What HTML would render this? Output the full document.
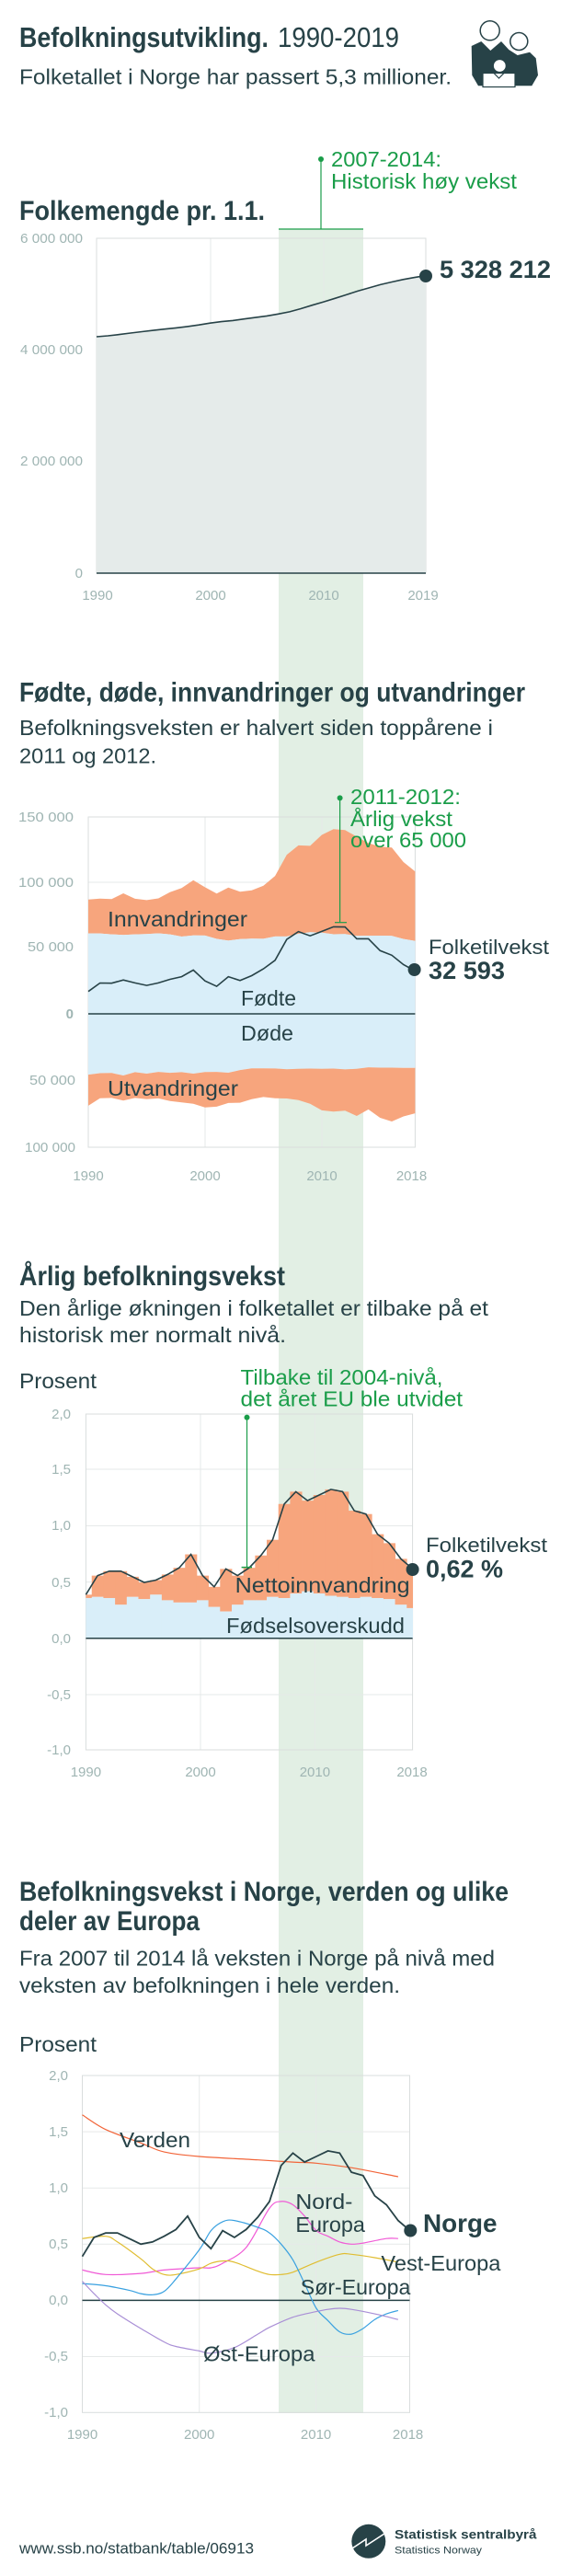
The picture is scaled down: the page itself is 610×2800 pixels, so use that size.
<!DOCTYPE html>
<html><head><meta charset="utf-8">
<style>
html,body{margin:0;padding:0;background:#fff;}
svg{display:block;}
text{font-family:"Liberation Sans",sans-serif;}
.t{font-weight:bold;fill:#274247;}
.s{fill:#274247;}
.ax{fill:#9fb5b3;font-size:15px;}
.g{fill:#1a9d49;}
</style></head>
<body>
<svg id="svg" width="610" height="2800" viewBox="0 0 610 2800" xmlns="http://www.w3.org/2000/svg">
<rect width="610" height="2800" fill="#fff"/>
<!-- green band -->
<rect x="303" y="249" width="92" height="2374" fill="#e2efe4"/>

<!-- header -->
<text class="t" x="21" y="51" font-size="31" textLength="271" lengthAdjust="spacingAndGlyphs">Befolkningsutvikling.</text>
<text class="s" x="302" y="51" font-size="31" textLength="132" lengthAdjust="spacingAndGlyphs">1990-2019</text>
<text class="s" x="21" y="91.5" font-size="23" textLength="470" lengthAdjust="spacingAndGlyphs">Folketallet i Norge har passert 5,3 millioner.</text>
<!-- icon -->
<path d="M512.7,50 L523.3,45 L533.3,55 L545,45 L553.3,54 L562.7,60 L576,56.7 L582.7,63.3 L585,81.7 L578.3,93.3 L520,93.3 L513.3,81.7 Z" fill="#274247"/>
<circle cx="532.7" cy="33.3" r="10.5" fill="#fff" stroke="#274247" stroke-width="1.5"/>
<circle cx="564.3" cy="45" r="9.5" fill="#fff" stroke="#274247" stroke-width="1.5"/>
<rect x="525" y="79.5" width="35" height="15" fill="#fff" stroke="#274247" stroke-width="1.2"/>
<path d="M537,79.5 L542.5,85 L548,79.5" fill="none" stroke="#274247" stroke-width="1.2"/>
<circle cx="543.3" cy="71.5" r="7" fill="#fff" stroke="#274247" stroke-width="1.2"/>

<!-- annotation 1 -->
<circle cx="349" cy="173" r="3" fill="#1a9d49"/>
<line x1="349" y1="173" x2="349" y2="249" stroke="#1a9d49" stroke-width="1.2"/>
<line x1="303" y1="249" x2="395" y2="249" stroke="#1a9d49" stroke-width="1.2"/>
<text class="g" x="360" y="181" font-size="23" textLength="120" lengthAdjust="spacingAndGlyphs">2007-2014:</text>
<text class="g" x="360" y="205" font-size="23" textLength="202" lengthAdjust="spacingAndGlyphs">Historisk høy vekst</text>

<text class="t" x="21" y="239" font-size="30" textLength="267" lengthAdjust="spacingAndGlyphs">Folkemengde pr. 1.1.</text>

<!-- chart1 -->
<g id="c1"></g>
<text class="ax" x="90" y="264" text-anchor="end" textLength="68" lengthAdjust="spacingAndGlyphs">6 000 000</text>
<text class="ax" x="90" y="385" text-anchor="end" textLength="68" lengthAdjust="spacingAndGlyphs">4 000 000</text>
<text class="ax" x="90" y="506" text-anchor="end" textLength="68" lengthAdjust="spacingAndGlyphs">2 000 000</text>
<text class="ax" x="90" y="628" text-anchor="end">0</text>
<text class="ax" x="106" y="652" text-anchor="middle">1990</text>
<text class="ax" x="229" y="652" text-anchor="middle">2000</text>
<text class="ax" x="352" y="652" text-anchor="middle">2010</text>
<text class="ax" x="460" y="652" text-anchor="middle">2019</text>
<circle cx="463" cy="300" r="7" fill="#274247"/>
<text class="t" x="478" y="302" font-size="27" textLength="121" lengthAdjust="spacingAndGlyphs">5 328 212</text>

<!-- section 2 -->
<text class="t" x="21" y="762.5" font-size="30" textLength="550" lengthAdjust="spacingAndGlyphs">Fødte, døde, innvandringer og utvandringer</text>
<text class="s" x="21" y="799" font-size="23" textLength="515" lengthAdjust="spacingAndGlyphs">Befolkningsveksten er halvert siden toppårene i</text>
<text class="s" x="21" y="829.5" font-size="23" textLength="149" lengthAdjust="spacingAndGlyphs">2011 og 2012.</text>
<g id="c2"></g>
<text class="ax" x="80" y="893" text-anchor="end" textLength="60" lengthAdjust="spacingAndGlyphs">150 000</text>
<text class="ax" x="80" y="964" text-anchor="end" textLength="60" lengthAdjust="spacingAndGlyphs">100 000</text>
<text class="ax" x="80" y="1034" text-anchor="end" textLength="50" lengthAdjust="spacingAndGlyphs">50 000</text>
<text class="ax" x="80" y="1107" text-anchor="end" font-weight="bold">0</text>
<text class="ax" x="82" y="1179" text-anchor="end" textLength="50" lengthAdjust="spacingAndGlyphs">50 000</text>
<text class="ax" x="82" y="1252" text-anchor="end" textLength="55" lengthAdjust="spacingAndGlyphs">100 000</text>
<text class="ax" x="96" y="1283" text-anchor="middle">1990</text>
<text class="ax" x="223" y="1283" text-anchor="middle">2000</text>
<text class="ax" x="350" y="1283" text-anchor="middle">2010</text>
<text class="ax" x="447.5" y="1283" text-anchor="middle">2018</text>
<text class="s" x="117" y="1007" font-size="23" textLength="152" lengthAdjust="spacingAndGlyphs">Innvandringer</text>
<text class="s" x="262" y="1093" font-size="23" textLength="60" lengthAdjust="spacingAndGlyphs">Fødte</text>
<text class="s" x="262" y="1131" font-size="23" textLength="57" lengthAdjust="spacingAndGlyphs">Døde</text>
<text class="s" x="117" y="1191" font-size="23" textLength="142" lengthAdjust="spacingAndGlyphs">Utvandringer</text>
<circle cx="369.6" cy="867.4" r="3" fill="#1a9d49"/>
<line x1="369.6" y1="867.4" x2="369.6" y2="1002.7" stroke="#1a9d49" stroke-width="1.2"/>
<line x1="364" y1="1002.7" x2="377" y2="1002.7" stroke="#1a9d49" stroke-width="1.2"/>
<text class="g" x="381" y="874" font-size="23" textLength="120" lengthAdjust="spacingAndGlyphs">2011-2012:</text>
<text class="g" x="381" y="898" font-size="23" textLength="111" lengthAdjust="spacingAndGlyphs">Årlig vekst</text>
<text class="g" x="381" y="921" font-size="23" textLength="126" lengthAdjust="spacingAndGlyphs">over 65 000</text>
<circle cx="450.6" cy="1054" r="7" fill="#274247"/>
<text class="s" x="466" y="1037" font-size="22" textLength="131" lengthAdjust="spacingAndGlyphs">Folketilvekst</text>
<text class="t" x="466" y="1064" font-size="27" textLength="83" lengthAdjust="spacingAndGlyphs">32 593</text>

<!-- section 3 -->
<text class="t" x="21" y="1397" font-size="30" textLength="289" lengthAdjust="spacingAndGlyphs">Årlig befolkningsvekst</text>
<text class="s" x="21" y="1430" font-size="23" textLength="510" lengthAdjust="spacingAndGlyphs">Den årlige økningen i folketallet er tilbake på et</text>
<text class="s" x="21" y="1459" font-size="23" textLength="290" lengthAdjust="spacingAndGlyphs">historisk mer normalt nivå.</text>
<text class="s" x="21" y="1509" font-size="23" textLength="84" lengthAdjust="spacingAndGlyphs">Prosent</text>
<g id="c3"></g>
<text class="ax" x="77" y="1542" text-anchor="end">2,0</text>
<text class="ax" x="77" y="1602" text-anchor="end">1,5</text>
<text class="ax" x="77" y="1663" text-anchor="end">1,0</text>
<text class="ax" x="77" y="1725" text-anchor="end">0,5</text>
<text class="ax" x="77" y="1786" text-anchor="end">0,0</text>
<text class="ax" x="77" y="1847" text-anchor="end">-0,5</text>
<text class="ax" x="77" y="1907" text-anchor="end">-1,0</text>
<text class="ax" x="93.4" y="1931" text-anchor="middle">1990</text>
<text class="ax" x="218" y="1931" text-anchor="middle">2000</text>
<text class="ax" x="342.4" y="1931" text-anchor="middle">2010</text>
<text class="ax" x="448" y="1931" text-anchor="middle">2018</text>
<circle cx="268.5" cy="1540.6" r="3" fill="#1a9d49"/>
<line x1="268.5" y1="1540.6" x2="268.5" y2="1703.6" stroke="#1a9d49" stroke-width="1.2"/>
<line x1="262.6" y1="1703.6" x2="274" y2="1703.6" stroke="#1a9d49" stroke-width="1.5"/>
<text class="g" x="261.5" y="1505" font-size="23" textLength="220" lengthAdjust="spacingAndGlyphs">Tilbake til 2004-nivå,</text>
<text class="g" x="261.5" y="1528.6" font-size="23" textLength="241.6" lengthAdjust="spacingAndGlyphs">det året EU ble utvidet</text>
<text class="s" x="255.6" y="1731" font-size="23" textLength="190" lengthAdjust="spacingAndGlyphs">Nettoinnvandring</text>
<text class="s" x="246" y="1775" font-size="23" textLength="194" lengthAdjust="spacingAndGlyphs">Fødselsoverskudd</text>
<circle cx="448.6" cy="1706" r="7" fill="#274247"/>
<text class="s" x="463" y="1687" font-size="22" textLength="132" lengthAdjust="spacingAndGlyphs">Folketilvekst</text>
<text class="t" x="463" y="1714.7" font-size="27" textLength="84" lengthAdjust="spacingAndGlyphs">0,62 %</text>

<!-- section 4 -->
<text class="t" x="21" y="2066" font-size="30" textLength="532" lengthAdjust="spacingAndGlyphs">Befolkningsvekst i Norge, verden og ulike</text>
<text class="t" x="21" y="2098" font-size="30" textLength="196" lengthAdjust="spacingAndGlyphs">deler av Europa</text>
<text class="s" x="21" y="2136.6" font-size="23" textLength="517" lengthAdjust="spacingAndGlyphs">Fra 2007 til 2014 lå veksten i Norge på nivå med</text>
<text class="s" x="21" y="2166" font-size="23" textLength="414" lengthAdjust="spacingAndGlyphs">veksten av befolkningen i hele verden.</text>
<text class="s" x="21" y="2230" font-size="23" textLength="84" lengthAdjust="spacingAndGlyphs">Prosent</text>
<g id="c4"></g>
<text class="ax" x="74" y="2261" text-anchor="end">2,0</text>
<text class="ax" x="74" y="2322" text-anchor="end">1,5</text>
<text class="ax" x="74" y="2383" text-anchor="end">1,0</text>
<text class="ax" x="74" y="2444" text-anchor="end">0,5</text>
<text class="ax" x="74" y="2505" text-anchor="end">0,0</text>
<text class="ax" x="74" y="2566" text-anchor="end">-0,5</text>
<text class="ax" x="74" y="2627" text-anchor="end">-1,0</text>
<text class="ax" x="89.5" y="2651" text-anchor="middle">1990</text>
<text class="ax" x="216.7" y="2651" text-anchor="middle">2000</text>
<text class="ax" x="343.6" y="2651" text-anchor="middle">2010</text>
<text class="ax" x="443.6" y="2651" text-anchor="middle">2018</text>
<text class="s" x="130" y="2334" font-size="23" textLength="77" lengthAdjust="spacingAndGlyphs">Verden</text>
<text class="s" x="321.4" y="2401" font-size="23" textLength="62" lengthAdjust="spacingAndGlyphs">Nord-</text>
<text class="s" x="321.4" y="2426" font-size="23" textLength="75.5" lengthAdjust="spacingAndGlyphs">Europa</text>
<circle cx="446.3" cy="2424.5" r="7" fill="#274247"/>
<text class="t" x="460" y="2426" font-size="28" textLength="80.5" lengthAdjust="spacingAndGlyphs">Norge</text>
<text class="s" x="414.4" y="2468" font-size="23" textLength="130" lengthAdjust="spacingAndGlyphs">Vest-Europa</text>
<text class="s" x="326.8" y="2493.8" font-size="23" textLength="119.5" lengthAdjust="spacingAndGlyphs">Sør-Europa</text>
<text class="s" x="221" y="2566.5" font-size="23" textLength="121.4" lengthAdjust="spacingAndGlyphs">Øst-Europa</text>

<!-- footer -->
<text class="s" x="21" y="2775.7" font-size="17" textLength="255" lengthAdjust="spacingAndGlyphs">www.ssb.no/statbank/table/06913</text>
<circle cx="400.8" cy="2762.3" r="18.5" fill="#274247"/>
<path d="M383,2770 L398,2760 L398,2767 L418,2754" fill="none" stroke="#fff" stroke-width="1.6"/>
<text class="t" x="429" y="2759.3" font-size="14" textLength="154.5" lengthAdjust="spacingAndGlyphs">Statistisk sentralbyrå</text>
<text class="s" x="429" y="2775.7" font-size="11" textLength="95" lengthAdjust="spacingAndGlyphs">Statistics Norway</text>
</svg>
<script>
(function(){
var NS="http://www.w3.org/2000/svg";
function el(g,tag,attrs){var e=document.createElementNS(NS,tag);for(var k in attrs)e.setAttribute(k,attrs[k]);g.insertBefore(e,g.firstChild?null:null);g.appendChild(e);return e;}
function pts(a){return a.map(function(p,i){return (i?"L":"M")+p[0].toFixed(1)+","+p[1].toFixed(1);}).join(" ");}
function smooth(a){var d="M"+a[0][0].toFixed(1)+","+a[0][1].toFixed(1);for(var i=0;i<a.length-1;i++){var p0=a[i-1]||a[i],p1=a[i],p2=a[i+1],p3=a[i+2]||p2;var c1=[p1[0]+(p2[0]-p0[0])/6,p1[1]+(p2[1]-p0[1])/6],c2=[p2[0]-(p3[0]-p1[0])/6,p2[1]-(p3[1]-p1[1])/6];d+=" C"+c1[0].toFixed(1)+","+c1[1].toFixed(1)+" "+c2[0].toFixed(1)+","+c2[1].toFixed(1)+" "+p2[0].toFixed(1)+","+p2[1].toFixed(1);}return d;}
var GRID="#e6e9e9",BORD="#d9dddd",DARK="#274247",SAL="#f7a57d",BLUE="#d9eef9";
// chart1
var g=document.getElementById("c1");
var pop=[4233116,4249830,4273634,4299167,4324815,4348410,4369957,4392714,4417599,4445329,4478497,4503436,4524066,4552252,4577457,4606363,4640219,4681134,4737171,4799252,4858199,4920305,4985870,5051275,5109056,5165802,5213985,5258317,5295619,5328212];
function x1(i){return 105+i*358/29;} function y1(v){return 623-v/1e6*60.7;}
[229,352].forEach(function(x){el(g,"line",{x1:x,y1:259,x2:x,y2:623,stroke:GRID,"stroke-width":1});});
el(g,"rect",{x:105,y:259,width:358,height:364,fill:"none",stroke:BORD,"stroke-width":1});
var L1=pop.map(function(v,i){return [x1(i),y1(v)];});
el(g,"path",{d:pts([[105,623]].concat(L1).concat([[463,623]]))+"Z",fill:"#e5ebea"});
el(g,"path",{d:pts(L1),fill:"none",stroke:DARK,"stroke-width":1.6});
el(g,"line",{x1:105,y1:623,x2:463,y2:623,stroke:DARK,"stroke-width":1.5});
// chart2
g=document.getElementById("c2");
var B=[60.9,60.8,60.1,59.7,60.1,60.3,60.9,60.1,58.4,59.3,59.2,56.7,55.4,56.5,56.9,56.8,58.5,58.5,60.5,61.8,61.4,60.2,60.3,58.9,59.1,59.1,58.9,56.6,55.1];
var D=[46,44.9,44.7,46.6,44.1,45.2,43.9,44.6,44.1,45.2,44.0,43.9,44.5,42.5,41.2,41.2,41.3,41.9,41.6,41.4,41.5,41.4,42.0,41.5,40.4,40.7,40.7,40.8,40.8];
var I=[25.5,26.3,26.7,31.4,26.9,25.7,26.4,31.9,36.7,41.8,36.5,34.3,40.1,35.9,36.5,40.1,45.8,61.8,66.9,65.2,73.9,79.5,78.6,75.1,70.0,67.3,66.8,58.2,52.5];
var E=[23.5,18.9,18.9,18.9,19.5,19.3,20.0,21.3,22.9,22.8,26.8,26.3,22.9,24.7,23.3,21.7,22.5,22.1,23.6,26.6,31.5,32.5,31.2,35.7,31.9,37.9,40.7,36.8,34.4];
function x2(i){return 96+i*355.4/28;} function y2(k){return 1102-k*1.4375;}
[959,1029.5].forEach(function(y){el(g,"line",{x1:96,y1:y,x2:451.4,y2:y,stroke:GRID});});
[223,350].forEach(function(x){el(g,"line",{x1:x,y1:888,x2:x,y2:1247,stroke:GRID});});
el(g,"rect",{x:96,y:888,width:355.4,height:359,fill:"none",stroke:BORD});
function band(up,lo,fill){var a=up.map(function(v,i){return [x2(i),y2(v)];});var b=lo.map(function(v,i){return [x2(i),y2(v)];}).reverse();el(g,"path",{d:pts(a.concat(b))+"Z",fill:fill});}
band(B.map(function(v,i){return v+I[i];}),B,SAL);
band(B,D.map(function(v){return -v;}),BLUE);
band(D.map(function(v){return -v;}),D.map(function(v,i){return -(v+E[i]);}),SAL);
el(g,"line",{x1:96,y1:1102,x2:451.4,y2:1102,stroke:DARK,"stroke-width":1.5});
el(g,"path",{d:pts(B.map(function(v,i){return [x2(i),y2(v-D[i]+I[i]-E[i])];})),fill:"none",stroke:DARK,"stroke-width":1.6});
// chart3
g=document.getElementById("c3");
var G=[0.39,0.56,0.60,0.60,0.55,0.50,0.52,0.57,0.63,0.75,0.56,0.46,0.62,0.56,0.63,0.74,0.88,1.20,1.31,1.23,1.28,1.33,1.31,1.14,1.11,0.93,0.85,0.71,0.62];
var S=[0.36,0.37,0.36,0.30,0.37,0.35,0.39,0.34,0.32,0.32,0.34,0.28,0.24,0.30,0.34,0.34,0.37,0.36,0.40,0.42,0.40,0.38,0.37,0.36,0.37,0.36,0.35,0.30,0.27];
function x3(i){return 93.4+i*355.2/28;} function y3(p){return 1780.8-p*121.7;}
[1597,1658.5,1719.6,1842].forEach(function(y){el(g,"line",{x1:93.4,y1:y,x2:448.6,y2:y,stroke:GRID});});
[218,342.4].forEach(function(x){el(g,"line",{x1:x,y1:1537,x2:x,y2:1902,stroke:GRID});});
el(g,"rect",{x:93.4,y:1537,width:355.2,height:365,fill:"none",stroke:BORD});
var w=355.2/28;
for(var i=0;i<29;i++){var xa=Math.max(93.4,x3(i)-w/2),xb=Math.min(448.6,x3(i)+w/2);
el(g,"rect",{x:xa,y:y3(G[i]),width:xb-xa+0.4,height:y3(S[i])-y3(G[i]),fill:SAL});
el(g,"rect",{x:xa,y:y3(S[i]),width:xb-xa+0.4,height:1780.8-y3(S[i]),fill:BLUE});}
el(g,"line",{x1:93.4,y1:1780.8,x2:448.6,y2:1780.8,stroke:DARK,"stroke-width":1.5});
el(g,"path",{d:pts(G.map(function(v,i){return [x3(i),y3(v)];})),fill:"none",stroke:DARK,"stroke-width":1.6});
// chart4
g=document.getElementById("c4");
function x4(yr){return 89.5+12.72*(yr-1990);} function y4(p){return 2500.4-p*122.2;}
[2317.1,2378.2,2439.3,2561.5].forEach(function(y){el(g,"line",{x1:89.5,y1:y,x2:445.5,y2:y,stroke:GRID});});
[216.7,343.6].forEach(function(x){el(g,"line",{x1:x,y1:2256,x2:x,y2:2622.3,stroke:GRID});});
el(g,"rect",{x:89.5,y:2256,width:356,height:366.3,fill:"none",stroke:BORD});
el(g,"line",{x1:89.5,y1:2500.4,x2:445.5,y2:2500.4,stroke:DARK,"stroke-width":1.5});
function ser(d,c){var a=[];for(var k=0;k<d.length;k+=2)a.push([x4(d[k]),y4(d[k+1])]);el(g,"path",{d:smooth(a),fill:"none",stroke:c,"stroke-width":1.2});}
ser([1990,1.65,1992,1.52,1995,1.40,1997,1.32,2000,1.28,2005,1.25,2008,1.23,2010,1.22,2013,1.18,2017,1.10],"#f26539");
ser([1990,0.27,1992,0.23,1995,0.24,1997,0.27,2000,0.29,2001,0.29,2002,0.33,2004,0.47,2006,0.82,2007,0.88,2008,0.85,2009,0.75,2010,0.62,2011,0.57,2012,0.52,2013,0.50,2014,0.51,2016,0.55,2017,0.55],"#f05ad6");
ser([1990,0.55,1992,0.57,1993,0.52,1995,0.37,1996,0.28,1997,0.23,1998,0.23,2000,0.28,2001,0.33,2002,0.35,2003,0.34,2005,0.26,2006,0.23,2007,0.23,2008,0.25,2010,0.34,2012,0.41,2013,0.41,2015,0.38,2017,0.34],"#e0bd31");
ser([1990,0.15,1992,0.13,1994,0.09,1995,0.06,1996,0.05,1997,0.08,1998,0.19,2000,0.45,2001,0.62,2002,0.70,2003,0.71,2005,0.65,2006,0.60,2007,0.50,2008,0.36,2009,0.15,2010,-0.07,2011,-0.18,2012,-0.28,2013,-0.30,2014,-0.25,2015,-0.17,2016,-0.12,2017,-0.09],"#3aa1e0");
ser([1990,0.17,1991,0.06,1992,-0.04,1993,-0.12,1995,-0.25,1997,-0.37,1998,-0.41,2000,-0.45,2001,-0.47,2003,-0.42,2005,-0.30,2006,-0.24,2008,-0.15,2010,-0.10,2011,-0.08,2012,-0.07,2013,-0.08,2015,-0.12,2017,-0.17],"#a98fd6");
el(g,"path",{d:pts(G.map(function(v,i){return [x4(1990+i),y4(v)];})),fill:"none",stroke:DARK,"stroke-width":1.8});
})();
</script>
</body></html>
